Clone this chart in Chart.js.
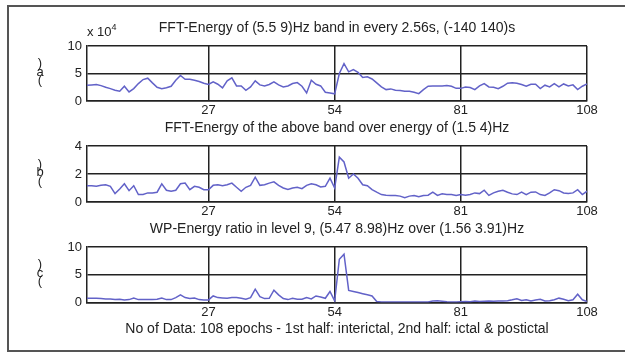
<!DOCTYPE html>
<html>
<head>
<meta charset="utf-8">
<script src="https://cdn.jsdelivr.net/npm/chart.js@4.4.1/dist/chart.umd.min.js"></script>
<style>
    body { margin: 0; background: #fff; }
    #wrap { position: relative; width: 625px; height: 353px; overflow: hidden; background: #fff; font-family: "Liberation Sans", Arial, sans-serif; color: #222; }
    #frame { position: absolute; left: 7px; top: 5px; width: 660px; height: 347px; box-sizing: border-box; border: 2px solid #555; }
    canvas { position: absolute; left: 0; }
    #expo { position: absolute; left: 87px; top: 25px; font-size: 13px; line-height: 14px; }
    #expo sup { font-size: 9px; vertical-align: 6px; line-height: 0; }
</style>
</head>
<body>
<div id="wrap">
    <div id="frame"></div>
    <canvas id="c1" width="625" height="104" style="top:14px"></canvas>
    <canvas id="c2" width="625" height="105" style="top:114px"></canvas>
    <canvas id="c3" width="625" height="123" style="top:215px"></canvas>
    <div id="expo">x 10<sup>4</sup></div>
</div>
<script>
const epochs = Array.from({ length: 108 }, (_, i) => i + 1)
const xTicks = [27, 54, 81, 108]

// (a) FFT energy, units of 10^4
const energyA = [
    2.87, 2.93, 3.0, 2.8, 2.5, 2.25, 1.95, 1.77, 2.68, 1.65,
    2.25, 3.17, 3.9, 4.15, 3.3, 2.5, 2.25, 2.4, 2.68, 3.78,
    4.63, 3.96, 3.96, 3.78, 3.54, 3.23, 3.0, 3.48, 3.05, 2.38,
    3.66, 4.2, 2.74, 2.74, 1.95, 2.56, 3.66, 2.93, 2.74, 3.0,
    3.48, 2.93, 2.56, 2.74, 3.17, 3.35, 2.68, 1.46, 3.78, 3.05,
    2.74, 1.58, 1.46, 1.3, 5.0, 6.8, 5.3, 5.7, 5.2, 4.27,
    4.4, 4.0, 3.3, 2.56, 2.07, 2.2, 1.95, 1.9, 1.77, 1.77,
    1.58, 1.34, 2.07, 2.68, 2.74, 2.74, 2.74, 2.8, 2.68, 2.3,
    2.3, 2.56, 2.44, 2.07, 2.74, 3.17, 2.56, 2.5, 2.25, 2.68,
    3.23, 3.3, 3.23, 3.0, 2.68, 3.05, 3.05, 2.25, 2.87, 2.56,
    3.17, 2.56, 3.1, 2.74, 2.93, 2.07, 2.68, 3.1
]

// (b) band energy over (1.5 4)Hz energy
const ratioB = [
    1.16, 1.16, 1.12, 1.19, 1.23, 1.12, 0.6, 0.93, 1.3, 0.81,
    1.16, 0.53, 0.53, 0.65, 0.65, 0.7, 1.3, 0.84, 0.77, 0.84,
    1.3, 1.35, 0.88, 1.12, 1.05, 0.88, 0.88, 1.19, 1.23, 1.16,
    1.23, 1.35, 1.05, 0.77, 1.05, 1.19, 1.77, 1.19, 1.23, 1.35,
    1.44, 1.19, 1.0, 0.9, 1.0, 1.05, 0.95, 1.19, 1.3, 1.23,
    1.07, 1.12, 1.7, 1.0, 3.2, 2.86, 1.7, 2.0, 1.7, 1.23,
    1.16, 0.88, 0.7, 0.53, 0.49, 0.47, 0.47, 0.42, 0.3, 0.42,
    0.47, 0.37, 0.47, 0.49, 0.7, 0.47, 0.58, 0.53, 0.53, 0.47,
    0.53, 0.49, 0.53, 0.65, 0.6, 0.84, 0.47, 0.65, 0.77, 0.84,
    0.7, 0.58, 0.53, 0.7, 0.53, 0.7, 0.72, 0.53, 0.47, 0.65,
    0.88, 0.81, 0.65, 0.6, 0.65, 0.88, 0.53, 0.77
]

// (c) WP energy ratio, level 9
const wpC = [
    0.78, 0.78, 0.78, 0.72, 0.66, 0.66, 0.54, 0.6, 0.48, 0.54,
    0.84, 0.54, 0.54, 0.54, 0.54, 0.6, 0.84, 0.54, 0.54, 0.9,
    1.39, 0.9, 0.72, 0.84, 0.54, 0.48, 0.48, 1.2, 0.9, 0.84,
    0.78, 0.9, 0.9, 0.78, 0.6, 0.9, 2.41, 1.08, 0.72, 0.78,
    2.23, 1.39, 0.72, 0.54, 0.78, 0.6, 0.6, 0.9, 0.66, 1.2,
    1.02, 0.78, 2.0, 0.3, 7.8, 8.7, 2.2, 2.0, 1.8, 1.6,
    1.4, 1.2, 0.18, 0.1, 0.1, 0.1, 0.1, 0.1, 0.1, 0.1,
    0.1, 0.1, 0.1, 0.1, 0.3, 0.35, 0.25, 0.15, 0.1, 0.1,
    0.15, 0.2, 0.15, 0.3, 0.2, 0.25, 0.3, 0.25, 0.3, 0.3,
    0.35, 0.5, 0.7, 0.4, 0.5, 0.3, 0.45, 0.6, 0.3, 0.35,
    0.5, 0.8, 0.6, 0.35, 0.5, 1.5, 0.5, 0.2
]

const titles = [
    'FFT-Energy of (5.5 9)Hz band in every 2.56s, (-140 140)s',
    'FFT-Energy of the above band over energy of (1.5 4)Hz',
    'WP-Energy ratio in level 9, (5.47 8.98)Hz over (1.56 3.91)Hz'
]
const footText = 'No of Data: 108 epochs - 1st half: interictal, 2nd half: ictal & postictal'

const fontFamily = '"Liberation Sans", Arial, sans-serif'
const textColor = '#222'
const lineColor = '#6262c8'

// stacked ")a(" style label left of each panel
const stackLabel = {
    id: 'stackLabel',
    afterDraw(chart, args, opts) {
        const { ctx, chartArea } = chart
        const mid = (chartArea.top + chartArea.bottom) / 2 - 1.5
        ctx.save()
        ctx.font = '13px ' + fontFamily
        ctx.fillStyle = textColor
        ctx.textAlign = 'center'
        ctx.textBaseline = 'middle'
        opts.chars.forEach((c, i) => ctx.fillText(c, 40, mid + (i - 1) * 8.5))
        ctx.restore()
    }
}

const makeChart = (id, values, title, yMax, yStep, letter, foot) => {
    const ctx = document.getElementById(id).getContext('2d')
    return new Chart(ctx, {
        type: 'line',
        data: {
            datasets: [{
                data: epochs.map((e, i) => ({ x: e, y: values[i] })),
                borderColor: lineColor,
                borderWidth: 1.5,
                pointRadius: 0,
                tension: 0,
                fill: false
            }]
        },
        plugins: [stackLabel],
        options: {
            responsive: false,
            animation: false,
            layout: { padding: { left: 57, right: 38, top: 0, bottom: 0 } },
            plugins: {
                legend: { display: false },
                tooltip: { enabled: false },
                title: {
                    display: true,
                    fullSize: false,
                    text: title,
                    color: textColor,
                    font: { family: fontFamily, size: 14, weight: 'normal', lineHeight: 1.2 },
                    padding: { top: 5.6, bottom: 9.6 }
                },
                stackLabel: { chars: [')', letter, '('] }
            },
            scales: {
                x: {
                    type: 'linear',
                    min: 1,
                    max: 108,
                    afterBuildTicks: (scale) => { scale.ticks = xTicks.map(v => ({ value: v })) },
                    afterFit: (scale) => { scale.height = foot ? 35.4 : 17 },
                    grid: { color: '#222', lineWidth: 1.5, drawTicks: false },
                    border: { color: '#222', width: 1.5 },
                    ticks: { color: textColor, padding: 2, maxRotation: 0, font: { family: fontFamily, size: 13 } },
                    title: {
                        display: !!foot,
                        text: foot || '',
                        color: textColor,
                        padding: 0,
                        font: { family: fontFamily, size: 14, lineHeight: 1.2 }
                    }
                },
                y: {
                    min: 0,
                    max: yMax,
                    afterFit: (scale) => { scale.width = 30 },
                    grid: { color: '#222', lineWidth: 1.5, drawTicks: false },
                    border: { color: '#222', width: 1.5 },
                    ticks: { stepSize: yStep, color: textColor, padding: 5, font: { family: fontFamily, size: 13 } }
                }
            }
        }
    })
}

makeChart('c1', energyA, titles[0], 10, 5, 'a')
makeChart('c2', ratioB, titles[1], 4, 2, 'b')
makeChart('c3', wpC, titles[2], 10, 5, 'c', footText)
</script>
</body>
</html>
